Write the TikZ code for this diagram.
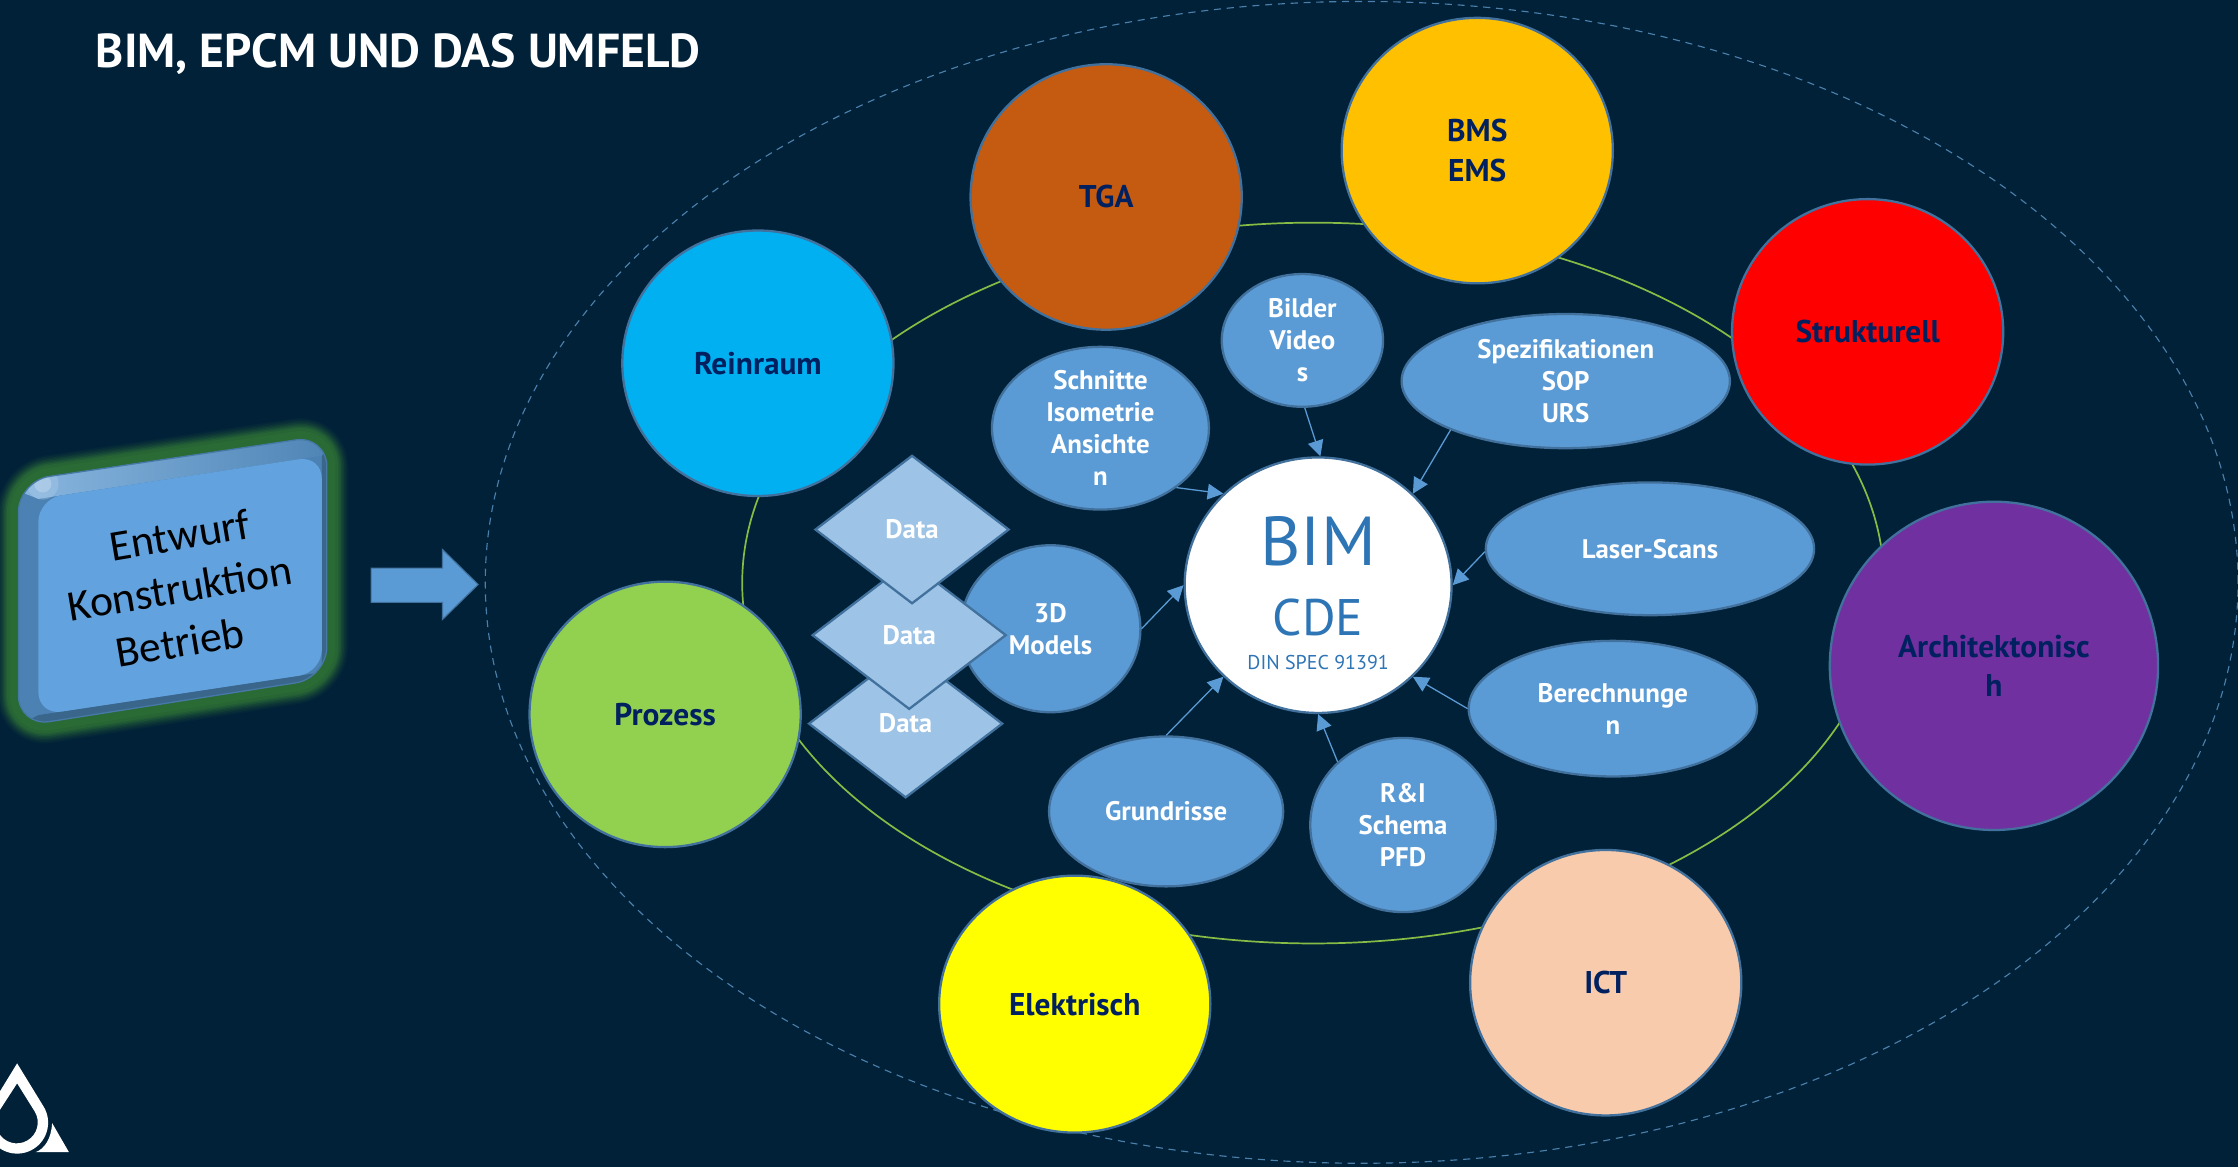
\documentclass[tikz,border=0pt]{standalone}
\usepackage{fontspec}
\setmainfont{PT Sans}
\newfontfamily\calib{Carlito}
\usetikzlibrary{shapes.geometric,arrows.meta}
\definecolor{bgc}{HTML}{012138}
\definecolor{edgec}{HTML}{41719C}
\definecolor{bluec}{HTML}{5B9BD5}
\definecolor{diac}{HTML}{9DC3E6}
\definecolor{navy}{HTML}{002060}
\definecolor{ringc}{HTML}{86BC45}
\definecolor{dashc}{HTML}{4A80AA}
\definecolor{bimc}{HTML}{2E75B6}
\definecolor{glowc}{HTML}{2A6B35}
\definecolor{tgac}{HTML}{C55A11}
\definecolor{bmsc}{HTML}{FFC000}
\definecolor{strc}{HTML}{FF0000}
\definecolor{reic}{HTML}{00B0F0}
\definecolor{proc}{HTML}{92D050}
\definecolor{arcc}{HTML}{7030A0}
\definecolor{ictc}{HTML}{F8CBAD}
\definecolor{elec}{HTML}{FFFF00}
\definecolor{facec}{HTML}{62A2DE}
\tikzset{
  x=1pt,y=-1pt,
  every label/.style={align=center,inner sep=0pt},
  big/.style={ellipse,draw=edgec,line width=1.6pt,inner sep=0pt,minimum width=190pt,minimum height=186pt},
  biglab/.style={text=navy,font=\bfseries\fontsize{22}{28}\selectfont},
  bub/.style={ellipse,draw=edgec,line width=1.6pt,fill=bluec,inner sep=0pt},
  bublab/.style={text=white,font=\bfseries\fontsize{18.8}{22.5}\selectfont},
  dia/.style={diamond,aspect=1.31,draw=edgec,line width=1.6pt,fill=diac,inner sep=0pt,minimum width=136pt,minimum height=104pt},
  conn/.style={bluec,line width=0.9pt,-{Triangle[length=11pt,width=11pt]}},
  bimlab/.style={text=bimc,inner sep=0pt},
  boxlab/.style={rotate=9.5,text=black,inner sep=0pt,font=\calib\fontsize{30.5}{36}\selectfont},
}
\begin{document}
\begin{tikzpicture}
\useasboundingbox[fill=bgc] (0,0) rectangle (1568,817.6);
% background rings
\node[ellipse,draw=dashc,dash pattern=on 5pt off 4pt,line width=0.8pt,inner sep=0pt,minimum width=1228pt,minimum height=814pt] (outer) at (954,408) {};
\node[ellipse,draw=ringc,line width=1.2pt,inner sep=0pt,minimum width=800pt,minimum height=505pt] (ring) at (920,408.5) {};
% title
\node[text=white,font=\bfseries\fontsize{33.4}{36}\selectfont,inner sep=0pt] (title) at (279,38) {BIM, EPCM UND DAS UMFELD};
% logo
\fill[white,even odd rule] (12,745) -- (30.5,775.2) arc[start angle=-31.5,end angle=211.5,radius=21.7] -- cycle
  (12,759) -- (24.5,779) arc[start angle=-30,end angle=210,radius=14.7] -- cycle;
\fill[white] (36.5,786.8) -- (48.3,807.2) -- (25,807.2) .. controls (31,805) and (36,798) .. cycle;
% glow of the 3D box
\foreach \w/\p in {30/8,28/16,26/26,24/38,22/52,20/66,18/80,16/92,12/100}{
  \draw[draw=glowc!\p!bgc,line width=\w pt,line join=round,rounded corners=22pt]
   (12.9,337) -- (229,305) -- (229,475) -- (12.9,509) -- cycle;
}
% 3D box
\begin{scope}
\clip[rounded corners=22pt] (12.9,337) -- (229,305) -- (229,475) -- (12.9,509) -- cycle;
\fill[fill=edgec!60!bluec] (0,300) rectangle (240,520);
\fill[fill=edgec!90!black] (235,300) -- (225.5,319.3) -- (225.5,471) -- (26.9,501) -- (0,515) -- (240,515) -- cycle;
\shade[left color=bluec!70!white,middle color=facec,right color=bluec!85!black] (0,339) -- (235,304) -- (225.5,319.3) -- (26.9,349.5) -- cycle;
\fill[diac!70!white,opacity=.3] (30,339) circle[radius=11];
\fill[diac!60!white,opacity=.45] (30,339) circle[radius=6];
\end{scope}
\draw[edgec!80!bluec,line width=0.9pt,rounded corners=22pt] (12.9,337) -- (229,305) -- (229,475) -- (12.9,509) -- cycle;
\fill[rounded corners=16pt,fill=facec] (26.9,349.5) -- (225.5,319.3) -- (225.5,471) -- (26.9,501) -- cycle;
\node[boxlab] (boxa) at (126,375) {Entwurf};
\node[boxlab] (boxb) at (126,412) {Konstruktion};
\node[boxlab] (boxc) at (126,450) {Betrieb};
% big arrow
\fill[bluec,draw=edgec,line width=0.8pt] (260,398) -- (310,398) -- (310,385) -- (335,409.5) -- (310,434) -- (310,422) -- (260,422) -- cycle;
% outer circles
\node[big,fill=tgac,label={[biglab]center:TGA}] (tga) at (775,138) {};
\node[big,fill=bmsc,label={[biglab]center:BMS\\EMS}] (bms) at (1035,105.5) {};
\node[big,fill=strc,label={[biglab]center:Strukturell}] (struk) at (1308.5,232.5) {};
\node[big,fill=reic,label={[biglab]center:Reinraum}] (rein) at (531,254.5) {};
\node[big,fill=proc,label={[biglab]center:Prozess}] (proz) at (466,500.5) {};
\node[big,minimum width=230pt,minimum height=230pt,fill=arcc,label={[biglab]center:Architektonisc\\h}] (arch) at (1397,466.5) {};
\node[big,fill=ictc,label={[biglab]center:ICT}] (ict) at (1125,688.5) {};
\node[big,minimum height=180pt,fill=elec,label={[biglab]center:Elektrisch}] (elek) at (753,703.5) {};
% centre
\node[ellipse,draw=edgec,line width=1.6pt,fill=white,inner sep=0pt,minimum width=187pt,minimum height=179pt] (bim) at (923.5,410) {};
\node[bimlab,font=\fontsize{48.5}{50}\selectfont] (bimt) at (923.5,379) {BIM};
\node[bimlab,font=\fontsize{36}{36}\selectfont] (cde) at (923.5,432.5) {CDE};
\node[bimlab,font=\fontsize{14}{14}\selectfont] (din) at (923.5,464) {DIN SPEC 91391};
% inner ovals
\node[bub,minimum width=152pt,minimum height=114pt,label={[bublab]center:Schnitte\\Isometrie\\Ansichte\\n}] (schn) at (771,300) {};
\node[bub,minimum width=113pt,minimum height=93pt,label={[bublab]center:Bilder\\Video\\s}] (bild) at (912.5,238.5) {};
\node[bub,minimum width=230pt,minimum height=94pt,label={[bublab]center:Spezifikationen\\SOP\\URS}] (spez) at (1097,267) {};
\node[bub,minimum width=230pt,minimum height=93pt,label={[bublab]center:Laser-Scans}] (laser) at (1156,384.5) {};
\node[bub,minimum width=202pt,minimum height=95pt,label={[bublab]center:Berechnunge\\n}] (ber) at (1130,496.5) {};
\node[bub,minimum width=130pt,minimum height=122pt,label={[bublab]center:R\&I\\Schema\\PFD}] (ri) at (983,578) {};
\node[bub,minimum width=164pt,minimum height=105pt,label={[bublab]center:Grundrisse}] (grund) at (817,568.5) {};
\node[bub,minimum width=126pt,minimum height=117pt,label={[bublab]center:3D\\Models}] (model) at (736,440.5) {};
% data diamonds
\node[dia,label={[bublab]center:Data}] (d3) at (634.5,507) {};
\node[dia,label={[bublab]center:Data}] (d2) at (637,445) {};
\node[dia,label={[bublab]center:Data}] (d1) at (639,371) {};
% connectors
\draw[conn] (schn.-38) -- (bim.136);
\draw[conn] (bild.-88) -- (bim.89);
\draw[conn] (spez.203) -- (bim.44);
\draw[conn] (laser.181) -- (bim.0);
\draw[conn] (ber.180) -- (bim.-44);
\draw[conn] (ri.136) -- (bim.-90);
\draw[conn] (grund.90) -- (bim.224);
\draw[conn] (model.0) -- (bim.180);
\end{tikzpicture}
\end{document}
